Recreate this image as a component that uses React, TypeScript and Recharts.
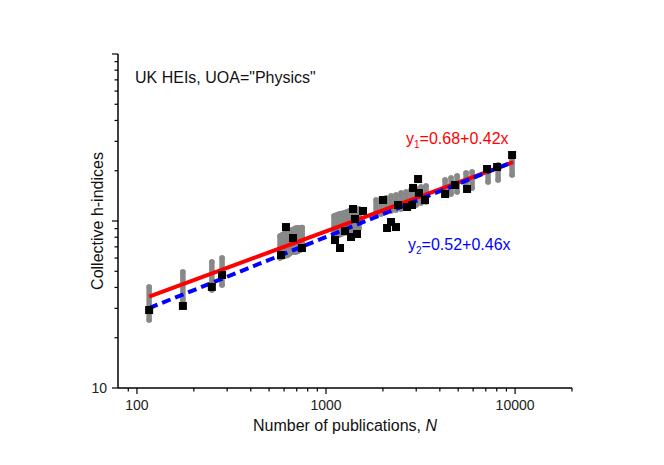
import React from 'react';
import { ComposedChart, XAxis, YAxis, Scatter, Line, ErrorBar } from 'recharts';

// ---- tick values ----
const xMajorTicks = [100, 1000, 10000];
const xAllTicks = [90, 100, 200, 300, 400, 500, 600, 700, 800, 900, 1000, 2000, 3000, 4000, 5000, 6000, 7000, 8000, 9000, 10000, 20000];
const yMajorTicks = [10, 100, 1000];
const yLabelledTicks = [10];
const yAllTicks = [10, 20, 30, 40, 50, 60, 70, 80, 90, 100, 200, 300, 400, 500, 600, 700, 800, 900, 1000];

// ---- black squares: N and collective h-index ----
const pubN = [116, 175, 249, 282, 578, 614, 669, 746, 1116, 1186, 1261, 1356, 1390, 1459, 1570, 1423, 2003, 2103, 2208, 2345, 2404, 2886, 3069, 3100, 2683, 2850, 3340, 4264, 4815, 5572, 7108, 8032, 9641];
const hIdx = [29.3, 31.0, 40.3, 47.5, 62.6, 92.0, 79.1, 68.9, 76.9, 68.9, 87.1, 80.2, 118, 83.6, 114.8, 102.8, 133.6, 90.8, 98.6, 92.0, 124.7, 157.7, 178.4, 147.1, 121.3, 124.7, 133.6, 145.1, 164.3, 155.5, 204.8, 210.5, 248.4];

// ---- grey vertical spreads ----
const spreadN = [116, 175, 249, 282, 571, 585, 599, 614, 630, 645, 661, 678, 694, 712, 729, 748, 1102, 1137, 1172, 1208, 1245, 1284, 1323, 1364, 1407, 1450, 1495, 1839, 1954, 2077, 2208, 2346, 2494, 2650, 2817, 2994, 3182, 3382, 4264, 4585, 4933, 5505, 5923, 7196, 8131, 9641];
const spreadLo = [25.5, 33.6, 38.6, 41.4, 60.0, 60.8, 61.7, 62.0, 62.6, 64.0, 65.2, 65.2, 65.2, 66.0, 67.0, 68.0, 81.3, 82.0, 82.5, 83.6, 84.7, 85.3, 85.9, 87.0, 88.3, 89.5, 90.8, 107.1, 110.1, 113.2, 114.8, 116.4, 118, 119.6, 123.0, 124.7, 128.2, 130, 143.1, 145.1, 149.2, 153.3, 157.6, 171.2, 176, 188.6];
const spreadHi = [40.3, 49.5, 56.8, 60.0, 81.3, 82.5, 83.6, 84.7, 85.9, 87.1, 88.3, 89.5, 90.8, 90.8, 90.8, 91.5, 107.1, 108.6, 110.1, 111.0, 111.6, 113.2, 114.8, 115.6, 116.4, 117.2, 118, 133.6, 135.4, 137.3, 141.2, 143.1, 147.1, 149.2, 153.3, 155.5, 159.8, 162, 176, 180.9, 186, 193.8, 196.5, 207.7, 216.5, 231.9];

// ---- fit lines (end points) ----
const fit1N = [116, 9750];
const fit1H = [35.2, 225];
const fit2N = [116, 9750];
const fit2H = [30.1, 226];

const squares = pubN.map((N, i) => ({ N, h: hIdx[i] }));
const spreads = spreadN.map((N, i) => {
  const lo = spreadLo[i];
  const hi = spreadHi[i];
  const h = Math.sqrt(lo * hi);
  return { N, h, err: [h - lo, hi - h] };
});
const fit1 = fit1N.map((N, i) => ({ N, h: fit1H[i] }));
const fit2 = fit2N.map((N, i) => ({ N, h: fit2H[i] }));

const FONT = '"Liberation Sans", Arial, Helvetica, sans-serif';

const XTick = (props: any) => {
  const { x, y, payload } = props;
  const major = xMajorTicks.includes(payload.value);
  return (
    <g>
      <line x1={x} x2={x} y1={y} y2={y + (major ? 6 : 3.5)} stroke="#000" strokeWidth={1.2} />
      {major && (
        <text x={x} y={y + 22} textAnchor="middle" fontSize={14} fontFamily={FONT} fill="#222">
          {payload.value}
        </text>
      )}
    </g>
  );
};

const YTick = (props: any) => {
  const { x, y, payload } = props;
  const major = yMajorTicks.includes(payload.value);
  return (
    <g>
      <line x1={x} x2={x - (major ? 6 : 3.5)} y1={y} y2={y} stroke="#000" strokeWidth={1.2} />
      {yLabelledTicks.includes(payload.value) && (
        <text x={x - 11} y={y + 5} textAnchor="end" fontSize={14} fontFamily={FONT} fill="#222">
          {payload.value}
        </text>
      )}
    </g>
  );
};

const Square = (props: any) => {
  const { cx, cy } = props;
  if (cx == null || cy == null) return null;
  return <rect x={cx - 4} y={cy - 4} width={8} height={8} fill="#000" />;
};

const NoShape = () => <g />;

export default function App() {
  return (
    <div style={{ position: 'absolute', left: 0, top: 0, width: 664, height: 465, background: '#fff' }}>
      <ComposedChart width={664} height={465} margin={{ top: 54, right: 92, left: 0, bottom: 0 }}>
        <XAxis
          dataKey="N"
          type="number"
          scale="log"
          domain={[79.4, 20000]}
          allowDataOverflow
          ticks={xAllTicks}
          interval={0}
          tick={<XTick />}
          tickLine={false}
          tickSize={0}
          tickMargin={0}
          height={77}
          axisLine={{ stroke: '#000', strokeWidth: 1.5 }}
        />
        <XAxis
          xAxisId="top"
          orientation="top"
          type="number"
          domain={[0, 1]}
          tick={false}
          tickLine={false}
          height={0}
          axisLine={{ stroke: '#000', strokeWidth: 1.5 }}
        />
        <YAxis
          dataKey="h"
          type="number"
          scale="log"
          domain={[10, 1000]}
          allowDataOverflow
          ticks={yAllTicks}
          interval={0}
          tick={<YTick />}
          tickLine={false}
          tickSize={0}
          tickMargin={0}
          width={118}
          axisLine={{ stroke: '#000', strokeWidth: 1.5 }}
        />
        <YAxis
          yAxisId="right"
          orientation="right"
          type="number"
          domain={[0, 1]}
          tick={false}
          tickLine={false}
          width={0}
          axisLine={{ stroke: '#000', strokeWidth: 1.5 }}
        />
        <Scatter data={spreads} dataKey="h" shape={NoShape} isAnimationActive={false}>
          <ErrorBar
            dataKey="err"
            direction="y"
            width={0}
            stroke="#888888"
            strokeWidth={5.5}
            strokeLinecap="round"
            isAnimationActive={false}
          />
        </Scatter>
        <Scatter data={squares} dataKey="h" shape={Square} isAnimationActive={false} />
        <Line data={fit1} dataKey="h" stroke="#ff0000" strokeWidth={4} dot={false} isAnimationActive={false} />
        <Line
          data={fit2}
          dataKey="h"
          stroke="#0000ff"
          strokeWidth={4}
          strokeDasharray="9 5"
          dot={false}
          isAnimationActive={false}
        />
        <text x={135} y={83} fontSize={16} fontFamily={FONT} fill="#111">
          UK HEIs, UOA="Physics"
        </text>
        <text x={406} y={144} fontSize={16} fontFamily={FONT} fill="#ff0000">
          y<tspan fontSize={10} dy={4}>1</tspan>
          <tspan dy={-4}>=0.68+0.42x</tspan>
        </text>
        <text x={408} y={250} fontSize={16} fontFamily={FONT} fill="#0000ff">
          y<tspan fontSize={10} dy={4}>2</tspan>
          <tspan dy={-4}>=0.52+0.46x</tspan>
        </text>
        <text x={345} y={431} textAnchor="middle" fontSize={16} fontFamily={FONT} fill="#111">
          Number of publications, <tspan fontStyle="italic">N</tspan>
        </text>
        <text
          x={103}
          y={221}
          textAnchor="middle"
          fontSize={16}
          fontFamily={FONT}
          fill="#111"
          transform="rotate(-90 103 221)"
        >
          Collective h-indices
        </text>
      </ComposedChart>
    </div>
  );
}
